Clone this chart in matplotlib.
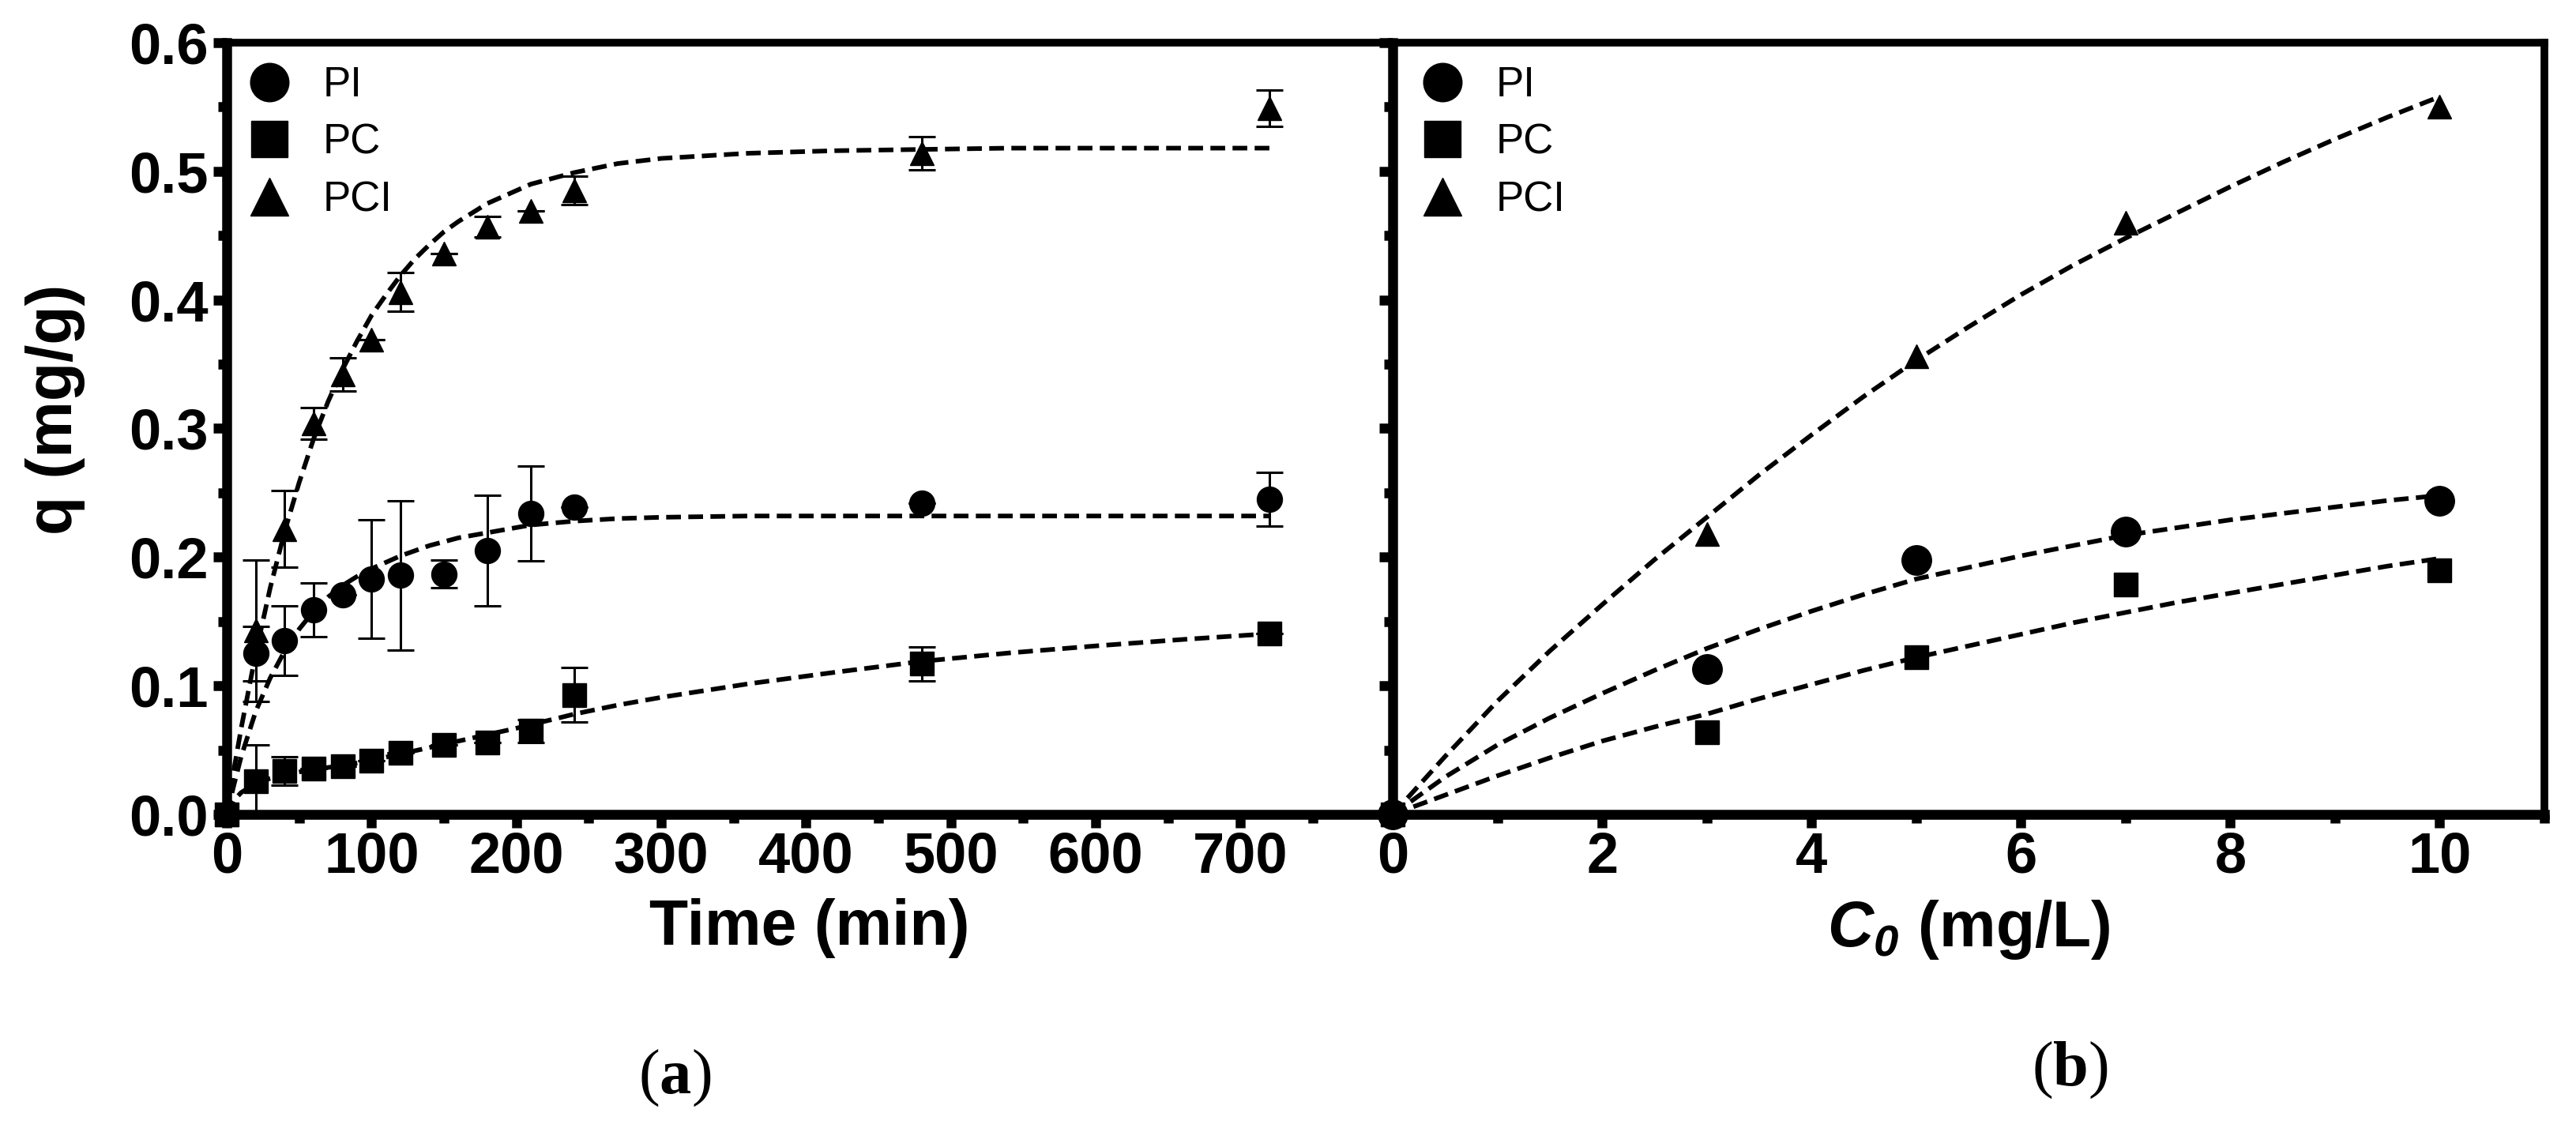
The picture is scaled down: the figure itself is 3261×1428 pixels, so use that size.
import matplotlib
matplotlib.use('Agg')
import matplotlib.pyplot as plt
from matplotlib.lines import Line2D
from matplotlib.ticker import MultipleLocator, FormatStrFormatter

# ---------------- data: panel (a) kinetics ----------------
time_min = [0, 20, 40, 60, 80, 100, 120, 150, 180, 210, 240, 480, 720]
pi_q = [0, 0.125, 0.135, 0.159, 0.171, 0.183, 0.186, 0.187, 0.205, 0.234, 0.239, 0.242, 0.245]
pi_err = [0, 0.021, 0.027, 0.021, 0, 0.046, 0.058, 0.011, 0.043, 0.037, 0, 0, 0.021]
pc_q = [0, 0.026, 0.034, 0.0355, 0.0375, 0.042, 0.048, 0.054, 0.056, 0.065, 0.093, 0.117, 0.1405]
pc_err = [0, 0.028, 0.011, 0, 0, 0, 0, 0, 0, 0.009, 0.021, 0.013, 0]
pci_q = [0, 0.143, 0.222, 0.304, 0.342, 0.369, 0.406, 0.436, 0.457, 0.469, 0.485, 0.514, 0.549]
pci_err = [0, 0.055, 0.030, 0.012, 0.013, 0, 0.015, 0, 0.008, 0, 0.011, 0.013, 0.014]

# fitted curves
fit_time = [0, 5, 10, 20, 30, 40, 50, 60, 70, 80, 90, 100, 110, 120, 130, 140, 150, 160, 170,
            180, 190, 200, 210, 220, 230, 240, 270, 300, 360, 420, 480, 540, 600, 660, 720]
fit_pi_t = [0, 0.023, 0.045, 0.080, 0.106, 0.127, 0.144, 0.158, 0.169, 0.178, 0.185, 0.191,
            0.196, 0.201, 0.205, 0.209, 0.212, 0.215, 0.217, 0.219, 0.221, 0.223, 0.225, 0.226,
            0.227, 0.228, 0.230, 0.231, 0.232, 0.232, 0.232, 0.232, 0.232, 0.232, 0.232]
fit_pc_t = [0, 0.011, 0.017, 0.024, 0.028, 0.031, 0.033, 0.035, 0.0365, 0.038, 0.040, 0.042,
            0.0445, 0.047, 0.0495, 0.052, 0.0545, 0.057, 0.0595, 0.062, 0.0645, 0.067, 0.0697,
            0.0725, 0.0752, 0.078, 0.085, 0.091, 0.1015, 0.1105, 0.119, 0.1255, 0.131, 0.136,
            0.1405]
fit_pci_t = [0, 0.035, 0.067, 0.125, 0.176, 0.220, 0.258, 0.292, 0.321, 0.346, 0.368, 0.388,
             0.404, 0.419, 0.432, 0.443, 0.453, 0.461, 0.468, 0.475, 0.480, 0.485, 0.490, 0.493,
             0.496, 0.499, 0.506, 0.510, 0.514, 0.516, 0.517, 0.518, 0.518, 0.518, 0.518]

# ---------------- data: panel (b) isotherms ----------------
c0 = [0, 3, 5, 7, 10]
pi_c = [0, 0.113, 0.198, 0.220, 0.244]
pc_c = [0, 0.064, 0.122, 0.179, 0.190]
pci_c = [0, 0.218, 0.356, 0.460, 0.550]

fit_c0 = [0, 0.5, 1, 1.5, 2, 2.5, 3, 3.5, 4, 4.5, 5, 5.5, 6, 6.5, 7, 7.5, 8, 8.5, 9, 9.5, 10]
fit_pi_c = [0, 0.029, 0.054, 0.075, 0.094, 0.112, 0.129, 0.144, 0.158, 0.171, 0.183, 0.192,
            0.201, 0.209, 0.217, 0.223, 0.229, 0.234, 0.239, 0.244, 0.248]
fit_pc_c = [0, 0.015, 0.030, 0.044, 0.057, 0.068, 0.078, 0.090, 0.101, 0.112, 0.122, 0.131,
            0.140, 0.149, 0.157, 0.165, 0.172, 0.179, 0.186, 0.193, 0.199]
fit_pci_c = [0, 0.045, 0.088, 0.127, 0.163, 0.198, 0.231, 0.264, 0.295, 0.325, 0.353, 0.379,
             0.404, 0.427, 0.448, 0.468, 0.488, 0.507, 0.525, 0.542, 0.558]

series_names = ['PI', 'PC', 'PCI']
ytick_labels_fmt = '%.1f'

# ---------------- style ----------------
plt.rcParams['font.family'] = ['Liberation Sans', 'DejaVu Sans']
plt.rcParams['font.weight'] = 'bold'
plt.rcParams['mathtext.fontset'] = 'custom'
plt.rcParams['mathtext.rm'] = 'Liberation Sans'
plt.rcParams['mathtext.it'] = 'Liberation Sans:italic'
plt.rcParams['mathtext.bf'] = 'Liberation Serif:bold'
if 'mathtext.bfit' in plt.rcParams:
    plt.rcParams['mathtext.bfit'] = 'Liberation Sans:italic:bold'

W, H = 3261, 1428
fig = plt.figure(figsize=(W / 100, H / 100), dpi=100)
ax1 = fig.add_axes([287 / W, 1 - 1031 / H, 1476 / W, 977 / H])
ax2 = fig.add_axes([1763 / W, 1 - 1031 / H, 1458 / W, 977 / H])

DASH = dict(color='black', lw=4.2, dashes=(3.2, 1.6), zorder=2)
EB = dict(fmt='none', ecolor='black', elinewidth=2.2, capsize=12, capthick=2.2, zorder=2)


def style_axes(ax):
    for side in ['left', 'bottom']:
        ax.spines[side].set_linewidth(9)
    for side in ['top', 'right']:
        ax.spines[side].set_linewidth(7)
    ax.tick_params(which='major', direction='out', length=12, width=9, labelsize=52,
                   top=False, right=False)
    ax.tick_params(which='minor', direction='out', length=8, width=9, top=False, right=False)
    ax.tick_params(axis='x', which='major', pad=3)
    ax.tick_params(axis='y', which='major', pad=5)
    ax.set_ylim(0, 0.6)
    ax.yaxis.set_major_locator(MultipleLocator(0.1))
    ax.yaxis.set_minor_locator(MultipleLocator(0.05))
    ax.yaxis.set_major_formatter(FormatStrFormatter(ytick_labels_fmt))


style_axes(ax1)
style_axes(ax2)

# ---------------- panel (a) ----------------
ax1.set_xlim(0, 805)
ax1.set_xticks([0, 100, 200, 300, 400, 500, 600, 700])
ax1.set_xticks([50, 150, 250, 350, 450, 550, 650, 750], minor=True)
ax1.spines['right'].set_visible(False)

ax1.plot(fit_time, fit_pi_t, **DASH)
ax1.plot(fit_time, fit_pc_t, **DASH)
ax1.plot(fit_time, fit_pci_t, **DASH)

ax1.errorbar(time_min, pi_q, yerr=pi_err, **EB)
ax1.errorbar(time_min, pc_q, yerr=pc_err, **EB)
ax1.errorbar(time_min, pci_q, yerr=pci_err, **EB)

ax1.plot(time_min, pi_q, 'o', color='black', ms=23, zorder=3, clip_on=False)
ax1.plot(time_min, pc_q, 's', color='black', ms=21, zorder=3, clip_on=False)
ax1.plot(time_min, pci_q, '^', color='black', ms=22, zorder=3, clip_on=False)

ax1.set_xlabel('Time (min)', fontsize=58, fontweight='bold')
ax1.xaxis.set_label_coords(0.5, -0.108)
ax1.set_ylabel('q (mg/g)', fontsize=58, fontweight='bold')
ax1.yaxis.set_label_coords(-0.121, 0.525)

# ---------------- panel (b) ----------------
ax2.set_xlim(0, 11)
ax2.xaxis.set_major_locator(MultipleLocator(2))
ax2.xaxis.set_minor_locator(MultipleLocator(1))
ax2.tick_params(axis='y', labelleft=False)

ax2.plot(fit_c0, fit_pi_c, **DASH)
ax2.plot(fit_c0, fit_pc_c, **DASH)
ax2.plot(fit_c0, fit_pci_c, **DASH)

ax2.plot(c0, pi_c, 'o', color='black', ms=27, zorder=3, clip_on=False)
ax2.plot(c0, pc_c, 's', color='black', ms=22, zorder=3, clip_on=False)
ax2.plot(c0, pci_c, '^', color='black', ms=22, zorder=3, clip_on=False)

ax2.set_xlabel(r'$\mathbfit{C}_{\mathbfit{0}}$ (mg/L)', fontsize=58, fontweight='bold')
ax2.xaxis.set_label_coords(0.5, -0.108)

# ---------------- legends ----------------
for ax, anchor_x in ((ax1, 0.0), (ax2, 0.006)):
    handles = [Line2D([], [], ls='none', marker='o', color='black', ms=35),
               Line2D([], [], ls='none', marker='s', color='black', ms=33),
               Line2D([], [], ls='none', marker='^', color='black', ms=34)]
    ax.legend(handles, series_names, loc='upper left', bbox_to_anchor=(anchor_x, 1.0),
              frameon=False,
              prop={'family': 'Liberation Sans', 'weight': 'normal', 'size': 38},
              handlelength=0.95, handletextpad=0.8, borderaxespad=0.0, borderpad=0.55,
              labelspacing=0.43)

# ---------------- panel tags ----------------
fig.text(854 / W, 1 - 1365 / H, r'($\mathbf{a}$)', family='Liberation Serif', fontweight='normal',
         fontsize=58, ha='center', va='center')
fig.text(2620 / W, 1 - 1355 / H, r'($\mathbf{b}$)', family='Liberation Serif', fontweight='normal',
         fontsize=58, ha='center', va='center')

fig.savefig('out.png', dpi=100)
